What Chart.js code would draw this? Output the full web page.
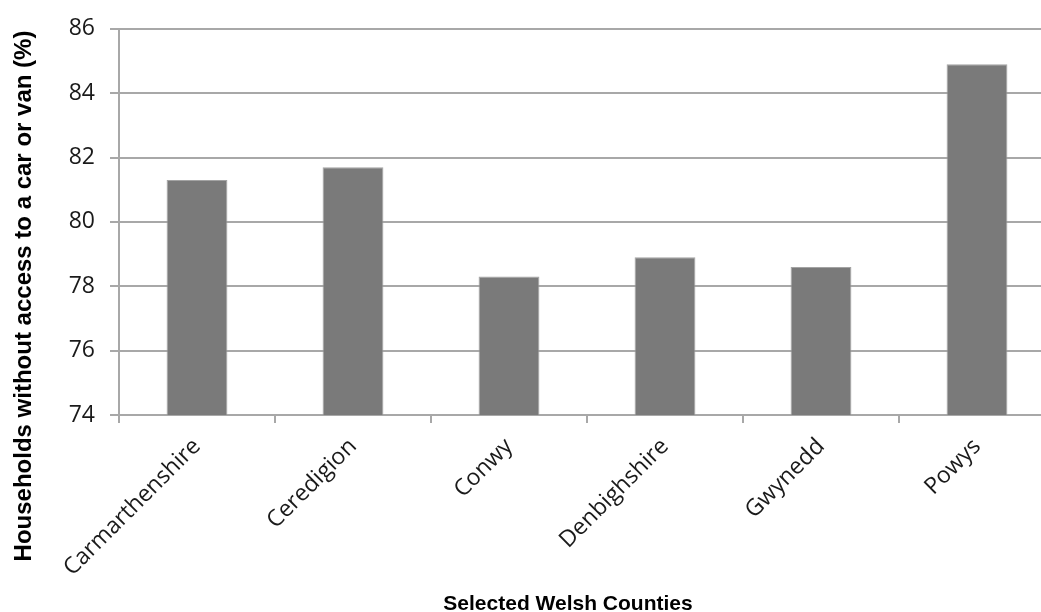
<!DOCTYPE html>
<html>
<head>
<meta charset="utf-8">
<script src="https://cdn.jsdelivr.net/npm/chart.js@4/dist/chart.umd.min.js"></script>
<style>
  html, body { margin: 0; padding: 0; background: #fff; overflow: hidden; }
  #wrap { width: 1041px; height: 612px; overflow: hidden; position: relative; }
  canvas { display: block; }
</style>
</head>
<body>
<div id="wrap"><canvas id="c" width="1060" height="612"></canvas></div>
<script>
const categories = ["Carmarthenshire", "Ceredigion", "Conwy", "Denbighshire", "Gwynedd", "Powys"];
const values = [81.3, 81.7, 78.3, 78.9, 78.6, 84.9];
const yTicks = [74, 76, 78, 80, 82, 84, 86];
const yTitle = "Households without access to a car or van (%)";
const xTitle = "Selected Welsh Counties";

const gridColor = "#a8a8a8";

const titlesPlugin = {
  id: "titles",
  afterDraw(chart) {
    const ctx = chart.ctx;
    ctx.save();
    ctx.fillStyle = "#000";
    ctx.font = "bold 21px 'Liberation Sans', Arial, sans-serif";
    ctx.textAlign = "center";
    ctx.textBaseline = "alphabetic";
    ctx.fillText(xTitle, 568, 610);
    ctx.translate(24, 296);
    ctx.rotate(-Math.PI / 2);
    ctx.font = "bold 24px 'Liberation Sans', Arial, sans-serif";
    ctx.textBaseline = "middle";
    ctx.fillText(yTitle, 0, 0);
    ctx.restore();
  }
};

new Chart(document.getElementById("c"), {
  type: "bar",
  data: {
    labels: categories,
    datasets: [{
      data: values,
      backgroundColor: "#7a7a7a",
      borderColor: "#a3a3a3",
      borderWidth: 1,
      barPercentage: 0.39,
      categoryPercentage: 1.0
    }]
  },
  options: {
    responsive: false,
    animation: false,
    layout: { padding: { top: 27, right: 5, bottom: 0, left: 0 } },
    plugins: { legend: { display: false }, tooltip: { enabled: false } },
    scales: {
      x: {
        offset: true,
        grid: {
          display: true,
          drawOnChartArea: false,
          drawTicks: true,
          tickLength: 8,
          color: gridColor,
          lineWidth: 2,
          offset: true
        },
        border: { color: gridColor, width: 2 },
        ticks: {
          minRotation: 45,
          maxRotation: 45,
          padding: 10,
          color: "#1a1a1a",
          font: { family: "'Open Sans', sans-serif", size: 23 }
        },
        afterFit(scale) { scale.height = 197; }
      },
      y: {
        min: 74,
        max: 86,
        afterBuildTicks(scale) { scale.ticks = yTicks.map(v => ({ value: v })); },
        grid: {
          color: gridColor,
          lineWidth: 2,
          drawTicks: true,
          tickLength: 9
        },
        border: { color: gridColor, width: 2 },
        ticks: {
          padding: 15,
          color: "#1a1a1a",
          font: { family: "'Open Sans', sans-serif", size: 23 }
        },
        afterFit(scale) { scale.width = 119; }
      }
    }
  },
  plugins: [titlesPlugin]
});
</script>
</body>
</html>
